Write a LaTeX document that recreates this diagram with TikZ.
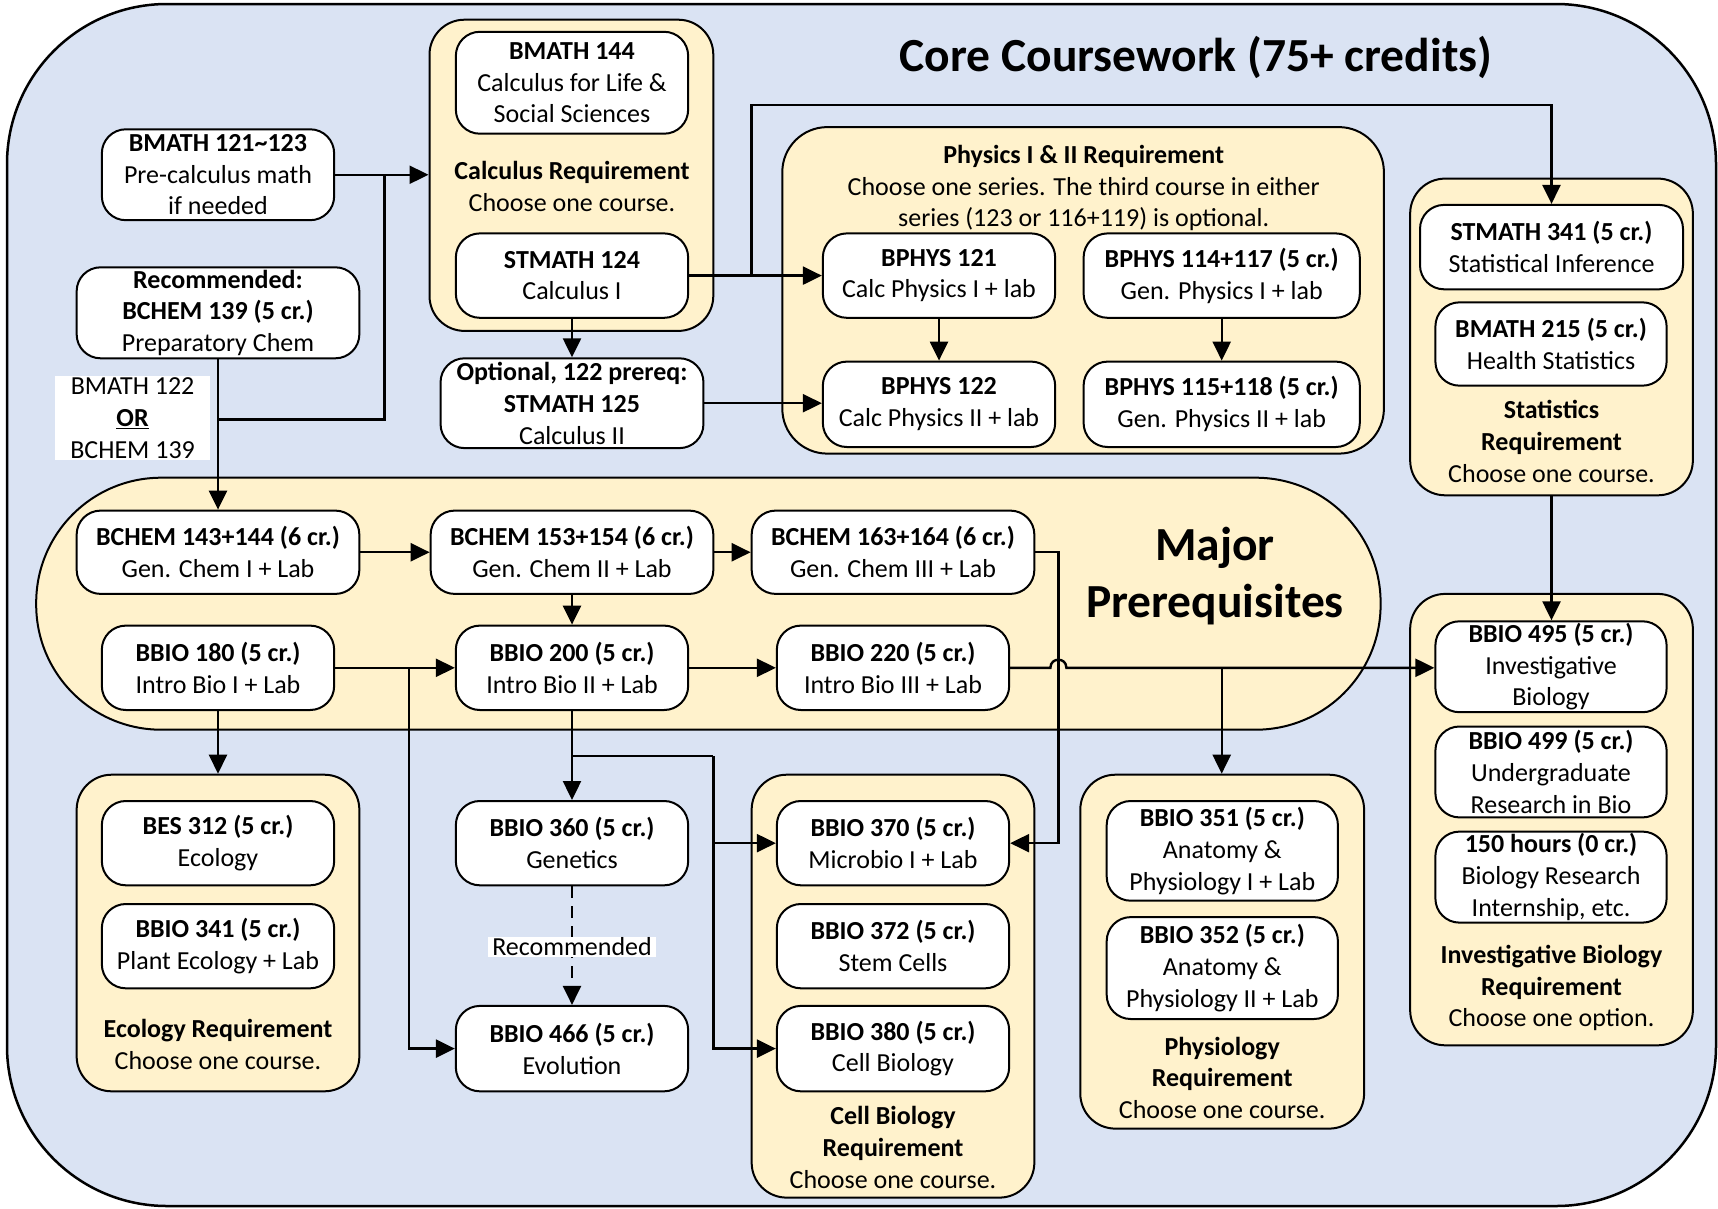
\documentclass[tikz,border=0pt]{standalone}
\usepackage{fontspec}
\setmainfont{Carlito}
\usetikzlibrary{arrows.meta}
\definecolor{bgblue}{HTML}{DAE3F3}
\definecolor{cream}{HTML}{FFF2CC}
\begin{document}
\begin{tikzpicture}[x=1pt,y=-1pt, font=\fontsize{26}{31.8}\selectfont,
  course/.style={draw, fill=white, line width=2pt, rounded corners=24pt, inner sep=0pt, align=center, execute at begin node={\rule{0pt}{23.5pt}}},
  group/.style={draw, fill=cream, line width=2pt, rounded corners=35pt, inner sep=0pt},
  wh/.style 2 args={minimum width=#1pt, minimum height=#2pt},
  lbl/.style={align=center, inner sep=0pt},
  conn/.style={line width=2.4pt},
  arr/.style={line width=2.4pt, -{Triangle[length=19pt,width=18pt]}}]
\useasboundingbox (0,0) rectangle (1718,1208);
\draw[fill=bgblue, line width=2.5pt, rounded corners=160pt] (7,4) rectangle (1716,1206);
\node[lbl, font=\fontsize{47.5}{57}\selectfont\bfseries] (title) at (1196,57.5) {Core Coursework (75+ credits)};

% containers
\node[group, wh={283.8}{311.2}] (calc) at (571.4,175.3) {};
\node[group, wh={601.6}{326.5}, rounded corners=45pt] (phys) at (1083.1,290.35) {};
\node[group, wh={282.7}{316.7}] (stats) at (1551.5,336.95) {};
\node[group, wh={1344.4}{252}, rounded corners=125pt] (major) at (708.4,603.7) {};
\node[group, wh={282.7}{316.6}] (eco) at (218,933) {};
\node[group, wh={282.7}{422.9}] (cell) at (893,986.15) {};
\node[group, wh={283.8}{353.9}] (physio) at (1222.2,951.65) {};
\node[group, wh={282.7}{451.4}] (invest) at (1551.5,819.6) {};

% container labels
\node[lbl] (calclbl) at (572,186.2) {\textbf{Calculus Requirement}\\Choose one course.};
\node[lbl] (physlbl) at (1083.7,188) {\textbf{Physics I \& II Requirement}\\Choose one series. The third course in either\\series (123 or 116+119) is optional.};
\node[lbl] (statslbl) at (1551.5,441.5) {\textbf{Statistics}\\\textbf{Requirement}\\Choose one course.};
\node[lbl, font=\fontsize{47.5}{57}\selectfont\bfseries] (majorlbl) at (1215,576) {Major\\Prerequisites};
\node[lbl] (ecolbl) at (218,1044.2) {\textbf{Ecology Requirement}\\Choose one course.};
\node[lbl] (celllbl) at (893,1147.7) {\textbf{Cell Biology}\\\textbf{Requirement}\\Choose one course.};
\node[lbl] (physiolbl) at (1222.2,1077.9) {\textbf{Physiology}\\\textbf{Requirement}\\Choose one course.};
\node[lbl] (investlbl) at (1551.5,988) {\textbf{Investigative Biology}\\\textbf{Requirement}\\Choose one option.};

% courses
\node[course, wh={232.3}{101.9}] (bmath144) at (572,82.75) {\textbf{BMATH 144}\\Calculus for Life \&\\Social Sciences};
\node[course, wh={232.3}{84.4}] (stmath124) at (572,275.6) {\textbf{STMATH 124}\\Calculus I};
\node[course, wh={232.3}{90.9}] (bmath121) at (218,174.75) {\textbf{BMATH 121\textasciitilde123}\\Pre-calculus math\\if needed};
\node[course, wh={282.7}{91}] (rec139) at (218,312.8) {\textbf{Recommended:}\\\textbf{BCHEM 139 (5 cr.)}\\Preparatory Chem};
\node[course, wh={262.9}{89.8}] (stmath125) at (572,403.2) {\textbf{Optional, 122 prereq:}\\\textbf{STMATH 125}\\Calculus II};
\node[course, wh={232.3}{84.4}] (bphys121) at (939,275.6) {\textbf{BPHYS 121}\\Calc Physics I + lab};
\node[course, wh={276.2}{84.4}] (bphys114) at (1221.7,275.6) {\textbf{BPHYS 114+117 (5 cr.)}\\Gen. Physics I + lab};
\node[course, wh={232.3}{85.4}] (bphys122) at (939,404.3) {\textbf{BPHYS 122}\\Calc Physics II + lab};
\node[course, wh={276.2}{85.4}] (bphys115) at (1221.7,404.3) {\textbf{BPHYS 115+118 (5 cr.)}\\Gen. Physics II + lab};
\node[course, wh={263}{84.4}] (stmath341) at (1551.5,247.1) {\textbf{STMATH 341 (5 cr.)}\\Statistical Inference};
\node[course, wh={231.2}{83.3}] (bmath215) at (1551,344) {\textbf{BMATH 215 (5 cr.)}\\Health Statistics};
\node[course, wh={282.7}{83.3}] (bchem143) at (218,552.25) {\textbf{BCHEM 143+144 (6 cr.)}\\Gen. Chem I + Lab};
\node[course, wh={282.7}{83.3}] (bchem153) at (572,552.25) {\textbf{BCHEM 153+154 (6 cr.)}\\Gen. Chem II + Lab};
\node[course, wh={282.7}{83.3}] (bchem163) at (893,552.25) {\textbf{BCHEM 163+164 (6 cr.)}\\Gen. Chem III + Lab};
\node[course, wh={232.3}{84.4}] (bbio180) at (218,667.8) {\textbf{BBIO 180 (5 cr.)}\\Intro Bio I + Lab};
\node[course, wh={232.3}{84.4}] (bbio200) at (572,667.8) {\textbf{BBIO 200 (5 cr.)}\\Intro Bio II + Lab};
\node[course, wh={232.3}{84.4}] (bbio220) at (893,667.8) {\textbf{BBIO 220 (5 cr.)}\\Intro Bio III + Lab};
\node[course, wh={232.3}{84.3}] (bes312) at (218,843.15) {\textbf{BES 312 (5 cr.)}\\Ecology};
\node[course, wh={232.3}{84.3}] (bbio341) at (218,946.15) {\textbf{BBIO 341 (5 cr.)}\\Plant Ecology + Lab};
\node[course, wh={232.3}{84.3}] (bbio360) at (572,843.15) {\textbf{BBIO 360 (5 cr.)}\\Genetics};
\node[course, wh={232.3}{85.4}] (bbio466) at (572,1048.6) {\textbf{BBIO 466 (5 cr.)}\\Evolution};
\node[course, wh={232.3}{84.3}] (bbio370) at (893,843.15) {\textbf{BBIO 370 (5 cr.)}\\Microbio I + Lab};
\node[course, wh={232.3}{84.3}] (bbio372) at (893,946.15) {\textbf{BBIO 372 (5 cr.)}\\Stem Cells};
\node[course, wh={232.3}{85.4}] (bbio380) at (893,1048.6) {\textbf{BBIO 380 (5 cr.)}\\Cell Biology};
\node[course, wh={231.2}{99.7}] (bbio351) at (1222.3,850.85) {\textbf{BBIO 351 (5 cr.)}\\Anatomy \&\\Physiology I + Lab};
\node[course, wh={231.2}{101.9}] (bbio352) at (1222.3,968.05) {\textbf{BBIO 352 (5 cr.)}\\Anatomy \&\\Physiology II + Lab};
\node[course, wh={231.2}{90.9}] (bbio495) at (1551,666.75) {\textbf{BBIO 495 (5 cr.)}\\Investigative\\Biology};
\node[course, wh={231.2}{90.9}] (bbio499) at (1551,771.95) {\textbf{BBIO 499 (5 cr.)}\\Undergraduate\\Research in Bio};
\node[course, wh={231.2}{91}] (hours150) at (1551,877.1) {\textbf{150 hours (0 cr.)}\\Biology Research\\Internship, etc.};

% junctions
\coordinate (j1) at (384.6,174.75);
\coordinate (j2) at (218,419.6);
\coordinate (j3) at (751.6,275.6);
\coordinate (j4) at (1551.5,105.2);
\coordinate (j5) at (1221.7,667.8);
\coordinate (j6) at (1058.4,552.25);
\coordinate (j7) at (408.7,667.8);
\coordinate (j8) at (572,756);
\coordinate (j9) at (713.3,756);
\coordinate (h1) at (1050.4,667.8);
\coordinate (h2) at (1066.4,667.8);

% connectors
\draw[arr] (bmath121.east) -- (bmath121.east -| calc.west);
\draw[arr] (rec139.south) -- (bchem143.north);
\draw[conn] (j2) -| (j1);
\draw[arr] (stmath124.east) -- (bphys121.west);
\draw[arr] (j3) |- (j4) -- (stmath341.north);
\draw[arr] (stmath124.south) -- (stmath125.north);
\draw[arr] (stmath125.east) -- (stmath125.east -| bphys122.west);
\draw[arr] (bphys121.south) -- (bphys122.north);
\draw[arr] (bphys114.south) -- (bphys115.north);
\draw[arr] (stats.south) -- (stats.south |- bbio495.north);
\draw[arr] (bchem143.east) -- (bchem153.west);
\draw[arr] (bchem153.east) -- (bchem163.west);
\draw[arr] (bchem153.south) -- (bbio200.north);
\draw[arr] (bbio180.east) -- (bbio200.west);
\draw[arr] (bbio200.east) -- (bbio220.west);
\draw[arr] (bbio220.east) -- (h1) .. controls (1050.4,657) and (1066.4,657) .. (h2) -- (bbio220.east -| bbio495.west);
\draw[arr] (j5) -- (j5 |- physio.north);
\draw[arr] (bchem163.east) -- (j6) |- (bbio370.east);
\draw[arr] (bbio180.south) -- (eco.north);
\draw[arr] (j7) |- (bbio466.west);
\draw[arr] (bbio200.south) -- (bbio360.north);
\draw[conn] (j8) -- (j9);
\draw[arr] (j9) |- (bbio370.west);
\draw[arr] (j9) |- (bbio380.west);
\draw[arr, dash pattern=on 12pt off 8pt] (bbio360.south) -- (bbio466.north);

% labels on lines
\node[lbl, fill=white, inner xsep=4pt, inner ysep=1pt] (reclbl) at (572,946.7) {Recommended};
\node[lbl, fill=white, wh={155.6}{84.4}] (orlbl) at (132.6,418) {BMATH 122\\\textbf{\underline{OR}}\\BCHEM 139};
\end{tikzpicture}
\end{document}
